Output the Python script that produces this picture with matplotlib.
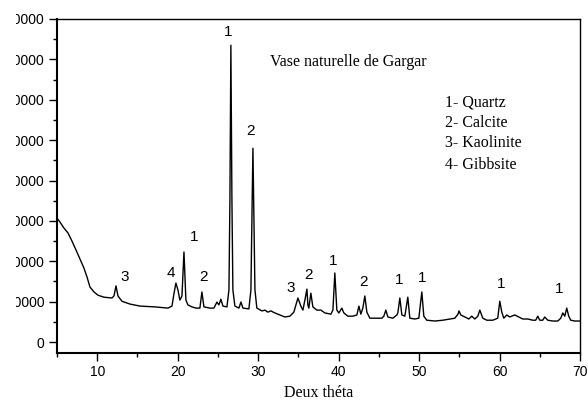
import numpy as np
import matplotlib
matplotlib.use('Agg')
import matplotlib.pyplot as plt
from matplotlib.patches import Rectangle

# diffractogram (two theta, counts)
twoTheta = [5.0, 5.37, 5.87, 6.37, 6.86, 7.36, 7.86, 8.35, 8.73, 9.10, 9.60, 10.09, 10.84, 11.83,
	12.08, 12.33, 12.58, 13.07, 14.07, 15.31, 17.17, 18.79, 19.29, 19.53, 19.78, 20.03, 20.27,
	20.53, 20.78, 21.02, 21.27, 21.77, 22.27, 22.76, 23.01, 23.26, 24.0, 24.5, 24.88, 25.12,
	25.37, 25.62, 26.12, 26.37, 26.49, 26.61, 26.74, 26.86, 27.11, 27.61, 27.86, 28.11, 28.85,
	29.1, 29.22, 29.35, 29.47, 29.6, 29.84, 30.47, 30.84, 31.21, 31.58, 32.08, 32.70, 33.32,
	33.94, 34.44, 34.94, 35.31, 35.56, 35.81, 36.06, 36.18, 36.30, 36.55, 36.80, 37.30, 37.80,
	38.29, 39.04, 39.29, 39.53, 39.78, 40.03, 40.40, 40.65, 41.15, 41.77, 42.27, 42.52, 42.76,
	43.01, 43.26, 43.51, 43.88, 44.63, 45.37, 45.62, 45.87, 46.12, 46.74, 47.24, 47.36, 47.61,
	47.86, 48.23, 48.60, 48.85, 49.47, 49.97, 50.34, 50.59, 50.96, 51.96, 52.95, 53.82, 54.44,
	54.84, 54.96, 55.19, 55.69, 56.18, 56.55, 56.93, 57.3, 57.55, 57.92, 58.42, 59.16, 59.78,
	60.03, 60.28, 60.53, 60.90, 61.27, 61.89, 62.39, 62.89, 63.51, 64.13, 64.50, 64.75, 65.0,
	65.37, 65.62, 65.99, 66.61, 67.24, 67.61, 67.86, 68.11, 68.35, 68.60, 68.85, 69.35, 69.97]
counts = [30700, 29700, 28200, 27000, 25000, 22800, 20500, 18300, 16100, 13600, 12400, 11600,
	11100, 10900, 11400, 13900, 11400, 10100, 9400, 8900, 8700, 8400, 8900, 11900, 14600, 12900,
	10400, 11400, 22300, 10400, 9200, 8700, 8400, 8400, 12400, 8700, 8400, 8400, 9900, 9200,
	10600, 8900, 8700, 12900, 35100, 73500, 35100, 12900, 8900, 8400, 9900, 8400, 8200,
	12900, 30200, 48000, 30200, 12900, 8400, 7700, 7900, 7400, 7700, 7200, 6700, 6200,
	6400, 7400, 10900, 8900, 7900, 10400, 13100, 9200, 8400, 12100, 8700, 7900, 7900,
	7200, 6900, 7900, 17100, 7900, 7200, 8400, 7200, 6400, 6400, 6700, 8900, 6900,
	8400, 11400, 7400, 5900, 5900, 5900, 6400, 7900, 6200, 5900, 6700, 7200, 10900,
	6700, 6400, 11100, 5900, 5700, 5900, 12400, 6400, 5400, 5200, 5400, 5700, 5900,
	6900, 7700, 6700, 6200, 5700, 6400, 5700, 6400, 7900, 5900, 5400, 5400, 5900,
	10100, 7400, 5900, 6700, 6200, 6700, 6200, 5700, 5700, 5400, 5400, 6400, 5400,
	5400, 6200, 5400, 5200, 5200, 5900, 7200, 6400, 8400, 6400, 5400, 5200, 5200]

# phase numbers written over the peaks
peakLabX = [13.45, 19.16, 22.02, 23.26, 26.24, 29.10, 34.07, 36.30, 39.29, 43.14, 47.48, 50.34, 60.16, 67.36]
peakLabY = [16100, 17100, 26000, 16100, 76700, 52200, 13400, 16600, 20000, 14800, 15300, 15800, 14400, 13100]
peakLab = ['3', '4', '1', '2', '1', '2', '3', '2', '1', '2', '1', '1', '1', '1']

phases = ['1- Quartz', '2- Calcite', '3- Kaolinite', '4- Gibbsite']
phaseY = [59400, 54200, 49300, 43800]

fig = plt.figure(figsize=(5.88, 4.07), dpi=100)
ax = fig.add_axes([57/588., 1 - 353/407., 523/588., 334/407.])

ax.plot(twoTheta, counts, color='black', lw=1.0)

ax.set_xlim(5, 70)
ax.set_ylim(-2720, 80000)
ax.set_xticks(np.arange(10, 71, 10))
ax.set_xticks(np.arange(5, 71, 5), minor=True)
ax.set_yticks(np.arange(0, 80001, 10000))
ax.set_yticks(np.arange(0, 80001, 5000), minor=True)
ax.tick_params(which='major', direction='out', length=6, width=1, labelsize=10, pad=3)
ax.tick_params(which='minor', direction='out', length=3, width=1)
for lab in ax.get_xticklabels() + ax.get_yticklabels():
	lab.set_fontfamily('Liberation Sans')
for side in ['left', 'bottom']:
	ax.spines[side].set_linewidth(1.5)
for side in ['top', 'right']:
	ax.spines[side].set_linewidth(1.0)

ax.set_xlabel('Deux théta', family='Liberation Serif', fontsize=11.5, labelpad=4)

for x, y, t in zip(peakLabX, peakLabY, peakLab):
	ax.text(x, y, t, ha='center', va='center', fontsize=11, family='Liberation Sans')

ax.text(41.25, 69300, 'Vase naturelle de Gargar', ha='center', va='center',
	fontsize=11.5, family='Liberation Serif')
for t, y in zip(phases, phaseY):
	ax.text(53.2, y, t, ha='left', va='center', fontsize=11.5, family='Liberation Serif')

# the source picture is cut on its left side, through the tick labels
fig.patches.append(Rectangle((0, 0), 16/588., 1, transform=fig.transFigure,
	facecolor='white', edgecolor='none', zorder=10))

fig.savefig('out.png', dpi=100)
